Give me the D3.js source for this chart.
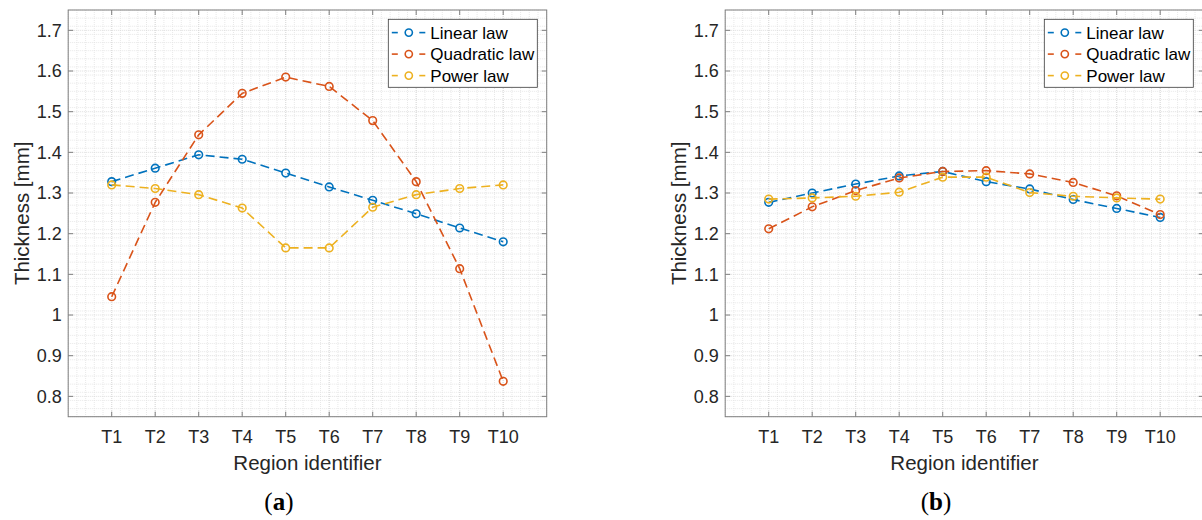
<!DOCTYPE html>
<html>
<head>
<meta charset="utf-8">
<script src="https://cdn.jsdelivr.net/npm/d3@7"></script>
<style>
  body { margin: 0; background: #fff; }
  svg { display: block; font-family: "Liberation Sans", Arial, sans-serif; }
</style>
</head>
<body>
<svg id="chart" width="1202" height="520"></svg>
<script>
// region identifiers on the x axis
const regions = ['T1', 'T2', 'T3', 'T4', 'T5', 'T6', 'T7', 'T8', 'T9', 'T10'];
const yTicks = [0.8, 0.9, 1.0, 1.1, 1.2, 1.3, 1.4, 1.5, 1.6, 1.7];
const yTickLabels = ['0.8', '0.9', '1', '1.1', '1.2', '1.3', '1.4', '1.5', '1.6', '1.7'];
const seriesNames = ['Linear law', 'Quadratic law', 'Power law'];
const seriesColors = ['#0072BD', '#D95319', '#EDB120'];

// panel (a)
const linearA = [1.328, 1.361, 1.394, 1.383, 1.349, 1.315, 1.282, 1.249, 1.214, 1.180];
const quadraticA = [1.045, 1.277, 1.443, 1.545, 1.585, 1.562, 1.478, 1.328, 1.114, 0.837];
const powerA = [1.320, 1.311, 1.296, 1.263, 1.165, 1.165, 1.265, 1.296, 1.311, 1.320];

// panel (b)
const linearB = [1.277, 1.300, 1.322, 1.342, 1.353, 1.328, 1.310, 1.284, 1.262, 1.240];
const quadraticB = [1.212, 1.266, 1.306, 1.337, 1.353, 1.355, 1.347, 1.326, 1.293, 1.247];
const powerB = [1.285, 1.288, 1.292, 1.302, 1.339, 1.339, 1.301, 1.292, 1.288, 1.285];

const svg = d3.select('#chart');
const plotTop = 10, plotBottom = 416.7, plotW = 478.5;
const textColor = '#262626';
const axisColor = '#7f7f7f';

function drawPanel(left, series, tag, legendX) {
    const x = d3.scaleLinear().domain([0, 11]).range([left, left + plotW]);
    const y = d3.scaleLinear().domain([0.75, 1.75]).range([plotBottom, plotTop]);
    const g = svg.append('g');

    // minor grid
    const minorX = d3.range(0, 11.001, 0.2);
    const minorY = d3.range(0.75, 1.7501, 0.02);
    g.selectAll('.gx').data(minorX).enter().append('line')
        .attr('x1', d => x(d)).attr('x2', d => x(d))
        .attr('y1', plotTop).attr('y2', plotBottom)
        .attr('stroke', '#e2e2e2').attr('stroke-width', 0.8)
        .attr('stroke-dasharray', '1,1');
    g.selectAll('.gy').data(minorY).enter().append('line')
        .attr('x1', x(0)).attr('x2', x(11))
        .attr('y1', d => y(d)).attr('y2', d => y(d))
        .attr('stroke', '#e2e2e2').attr('stroke-width', 0.8)
        .attr('stroke-dasharray', '1,1');
    // major grid
    g.selectAll('.Mx').data(d3.range(1, 11)).enter().append('line')
        .attr('x1', d => x(d)).attr('x2', d => x(d))
        .attr('y1', plotTop).attr('y2', plotBottom)
        .attr('stroke', '#d6d6d6').attr('stroke-width', 0.8)
        .attr('stroke-dasharray', '1,1');
    g.selectAll('.My').data(yTicks).enter().append('line')
        .attr('x1', x(0)).attr('x2', x(11))
        .attr('y1', d => y(d)).attr('y2', d => y(d))
        .attr('stroke', '#d6d6d6').attr('stroke-width', 0.8)
        .attr('stroke-dasharray', '1,1');

    // box
    g.append('rect')
        .attr('x', x(0)).attr('y', plotTop)
        .attr('width', plotW).attr('height', plotBottom - plotTop)
        .attr('fill', 'none').attr('stroke', axisColor).attr('stroke-width', 1);

    // inward ticks on all sides
    const tl = 5;
    const xt = d3.range(1, 11);
    g.selectAll('.tb').data(xt).enter().append('line')
        .attr('x1', d => x(d)).attr('x2', d => x(d))
        .attr('y1', plotBottom).attr('y2', plotBottom - tl)
        .attr('stroke', axisColor);
    g.selectAll('.tt').data(xt).enter().append('line')
        .attr('x1', d => x(d)).attr('x2', d => x(d))
        .attr('y1', plotTop).attr('y2', plotTop + tl)
        .attr('stroke', axisColor);
    g.selectAll('.tlft').data(yTicks).enter().append('line')
        .attr('x1', x(0)).attr('x2', x(0) + tl)
        .attr('y1', d => y(d)).attr('y2', d => y(d))
        .attr('stroke', axisColor);
    g.selectAll('.trgt').data(yTicks).enter().append('line')
        .attr('x1', x(11)).attr('x2', x(11) - tl)
        .attr('y1', d => y(d)).attr('y2', d => y(d))
        .attr('stroke', axisColor);

    // tick labels
    g.selectAll('.xl').data(regions).enter().append('text')
        .attr('x', (d, i) => x(i + 1)).attr('y', 443)
        .attr('text-anchor', 'middle')
        .attr('font-size', 18).attr('fill', textColor)
        .text(d => d);
    g.selectAll('.yl').data(yTicks).enter().append('text')
        .attr('x', x(0) - 6.5).attr('y', d => y(d))
        .attr('dy', '0.35em')
        .attr('text-anchor', 'end')
        .attr('font-size', 18).attr('fill', textColor)
        .text((d, i) => yTickLabels[i]);

    // axis titles
    g.append('text')
        .attr('x', x(5.5)).attr('y', 470)
        .attr('text-anchor', 'middle')
        .attr('font-size', 20.5).attr('fill', textColor)
        .text('Region identifier');
    g.append('text')
        .attr('transform', `translate(${x(0) - 46},${(plotTop + plotBottom) / 2}) rotate(-90)`)
        .attr('dy', '0.35em')
        .attr('text-anchor', 'middle')
        .attr('font-size', 20.5).attr('fill', textColor)
        .text('Thickness [mm]');

    // series
    const line = d3.line().x((d, i) => x(i + 1)).y(d => y(d));
    series.forEach((vals, k) => {
        g.append('path')
            .datum(vals)
            .attr('d', line)
            .attr('fill', 'none')
            .attr('stroke', seriesColors[k])
            .attr('stroke-width', 1.6)
            .attr('stroke-dasharray', '9,5');
        g.selectAll('.m' + k).data(vals).enter().append('circle')
            .attr('cx', (d, i) => x(i + 1)).attr('cy', d => y(d))
            .attr('r', 3.8)
            .attr('fill', 'none')
            .attr('stroke', seriesColors[k])
            .attr('stroke-width', 1.6);
    });

    // legend
    const lg = g.append('g').attr('transform', `translate(${legendX},19.3)`);
    lg.append('rect')
        .attr('width', 149).attr('height', 68)
        .attr('fill', '#fff').attr('stroke', '#3a3a3a').attr('stroke-width', 0.8);
    seriesNames.forEach((name, k) => {
        const ry = 13.3 + k * 21.5;
        lg.append('line').attr('x1', 3.5).attr('x2', 9.5).attr('y1', ry).attr('y2', ry)
            .attr('stroke', seriesColors[k]).attr('stroke-width', 1.6);
        lg.append('line').attr('x1', 31).attr('x2', 37).attr('y1', ry).attr('y2', ry)
            .attr('stroke', seriesColors[k]).attr('stroke-width', 1.6);
        lg.append('circle').attr('cx', 20.5).attr('cy', ry).attr('r', 3.6)
            .attr('fill', 'none').attr('stroke', seriesColors[k]).attr('stroke-width', 1.6);
        lg.append('text').attr('x', 42).attr('y', ry).attr('dy', '0.35em')
            .attr('font-size', 17).attr('fill', '#000')
            .text(name);
    });

    // panel tag
    const t = svg.append('text')
        .attr('x', x(5.5) - 28.5).attr('y', 510)
        .attr('text-anchor', 'middle')
        .attr('font-family', '"Liberation Serif", "DejaVu Serif", serif')
        .attr('font-size', 25).attr('fill', '#000');
    t.append('tspan').text('(');
    t.append('tspan').attr('font-weight', 'bold').text(tag);
    t.append('tspan').text(')');
}

drawPanel(68.2, [linearA, quadraticA, powerA], 'a', 388.3);
drawPanel(725.2, [linearB, quadraticB, powerB], 'b', 1044.3);
</script>
</body>
</html>
